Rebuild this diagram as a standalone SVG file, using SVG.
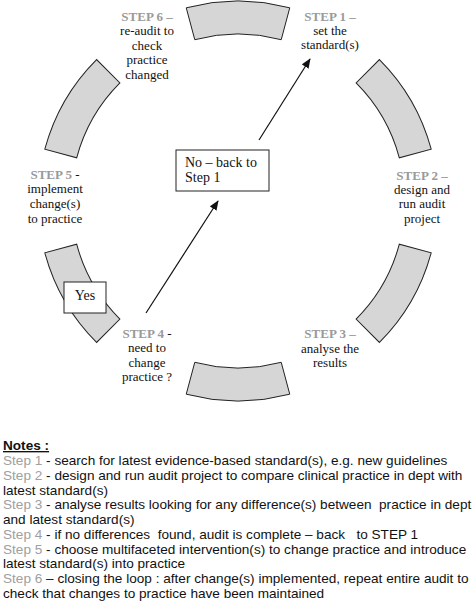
<svg xmlns="http://www.w3.org/2000/svg" xmlns:xlink="http://www.w3.org/1999/xlink" width="474" height="610" viewBox="0 0 474 610">
<style>
.seg{fill:#d6d6d6;stroke:#222;stroke-width:1}
.lbl{font-family:"Liberation Serif","Times New Roman",serif;font-size:13px;fill:#111;text-anchor:middle}
.st{font-weight:bold;fill:#9a9a9a}
.blk{fill:#111;font-weight:normal}
.box{fill:#fff;stroke:#222;stroke-width:1}
.btx{font-family:"Liberation Serif","Times New Roman",serif;font-size:14px;fill:#111}
.arr{stroke:#111;stroke-width:1.2;fill:none;marker-end:url(#ah)}
.note{font-family:"Liberation Sans",Arial,sans-serif;font-size:13.6px;fill:#111;white-space:pre}
.g{fill:#a0a0a0}
</style>
<defs>
<path id="arc" class="seg" d="M186.24,7.81 A200,200 0 0 1 289.76,7.81 L281.22,39.69 A167,167 0 0 0 194.78,39.69 Z"/>
<marker id="ah" markerWidth="10" markerHeight="8" refX="9" refY="4" orient="auto" markerUnits="userSpaceOnUse">
<path d="M0,0 L10,4 L0,8 Z" fill="#111"/>
</marker>
</defs>
<g id="connectors">
<use xlink:href="#arc"/>
<use xlink:href="#arc" transform="rotate(60 238 201)"/>
<use xlink:href="#arc" transform="rotate(120 238 201)"/>
<use xlink:href="#arc" transform="rotate(180 238 201)"/>
<use xlink:href="#arc" transform="rotate(240 238 201)"/>
<use xlink:href="#arc" transform="rotate(300 238 201)"/>
<line class="arr" x1="146" y1="313" x2="218" y2="201"/>
<line class="arr" x1="259" y1="140" x2="310" y2="59"/>
</g>
<g id="step1">
<text class="lbl"><tspan class="st" x="330" y="21">STEP 1 –</tspan><tspan x="330" y="35">set the</tspan><tspan x="330" y="49">standard(s)</tspan></text>
</g>
<g id="step2">
<text class="lbl"><tspan class="st" x="422" y="180">STEP 2 –</tspan><tspan x="422" y="194">design and</tspan><tspan x="422" y="208">run audit</tspan><tspan x="422" y="222.5">project</tspan></text>
</g>
<g id="step3">
<text class="lbl"><tspan class="st" x="330" y="338">STEP 3 –</tspan><tspan x="330" y="352.5">analyse the</tspan><tspan x="330" y="367">results</tspan></text>
</g>
<g id="step4">
<text class="lbl"><tspan x="147" y="338"><tspan class="st">STEP 4 </tspan><tspan class="blk">-</tspan></tspan><tspan x="147" y="352.3">need to</tspan><tspan x="147" y="366.7">change</tspan><tspan x="147" y="381">practice ?</tspan></text>
</g>
<g id="step5">
<text class="lbl"><tspan x="55" y="178.5"><tspan class="st">STEP 5 </tspan><tspan class="blk">-</tspan></tspan><tspan x="55" y="193">implement</tspan><tspan x="55" y="208">change(s)</tspan><tspan x="55" y="222.5">to practice</tspan></text>
</g>
<g id="step6">
<text class="lbl"><tspan class="st" x="147" y="21">STEP 6 –</tspan><tspan x="147" y="35.4">re-audit to</tspan><tspan x="147" y="49.8">check</tspan><tspan x="147" y="64.2">practice</tspan><tspan x="147" y="78.6">changed</tspan></text>
</g>
<g id="no-box">
<rect class="box" x="176" y="150" width="93" height="41"/>
<text class="btx"><tspan x="185" y="167">No – back to</tspan><tspan x="185" y="182">Step 1</tspan></text>
</g>
<g id="yes-box">
<rect class="box" x="64" y="282" width="42" height="31"/>
<text class="btx" x="85" y="300" text-anchor="middle">Yes</text>
</g>
<g id="notes">
<text class="note" x="3" y="450" font-weight="bold" text-decoration="underline">Notes :</text>
<text class="note" x="3" y="465"><tspan class="g">Step 1</tspan> - search for latest evidence-based standard(s), e.g. new guidelines</text>
<text class="note" x="3" y="480"><tspan class="g">Step 2</tspan> - design and run audit project to compare clinical practice in dept with</text>
<text class="note" x="3" y="494.5">latest standard(s)</text>
<text class="note" x="3" y="509"><tspan class="g">Step 3</tspan> - analyse results looking for any difference(s) between  practice in dept</text>
<text class="note" x="3" y="524">and latest standard(s)</text>
<text class="note" x="3" y="539"><tspan class="g">Step 4</tspan> - if no differences  found, audit is complete – back   to STEP 1</text>
<text class="note" x="3" y="553.5"><tspan class="g">Step 5</tspan> - choose multifaceted intervention(s) to change practice and introduce</text>
<text class="note" x="3" y="568">latest standard(s) into practice</text>
<text class="note" x="3" y="583"><tspan class="g">Step 6</tspan> – closing the loop : after change(s) implemented, repeat entire audit to</text>
<text class="note" x="3" y="597.5">check that changes to practice have been maintained</text>
</g>
</svg>
